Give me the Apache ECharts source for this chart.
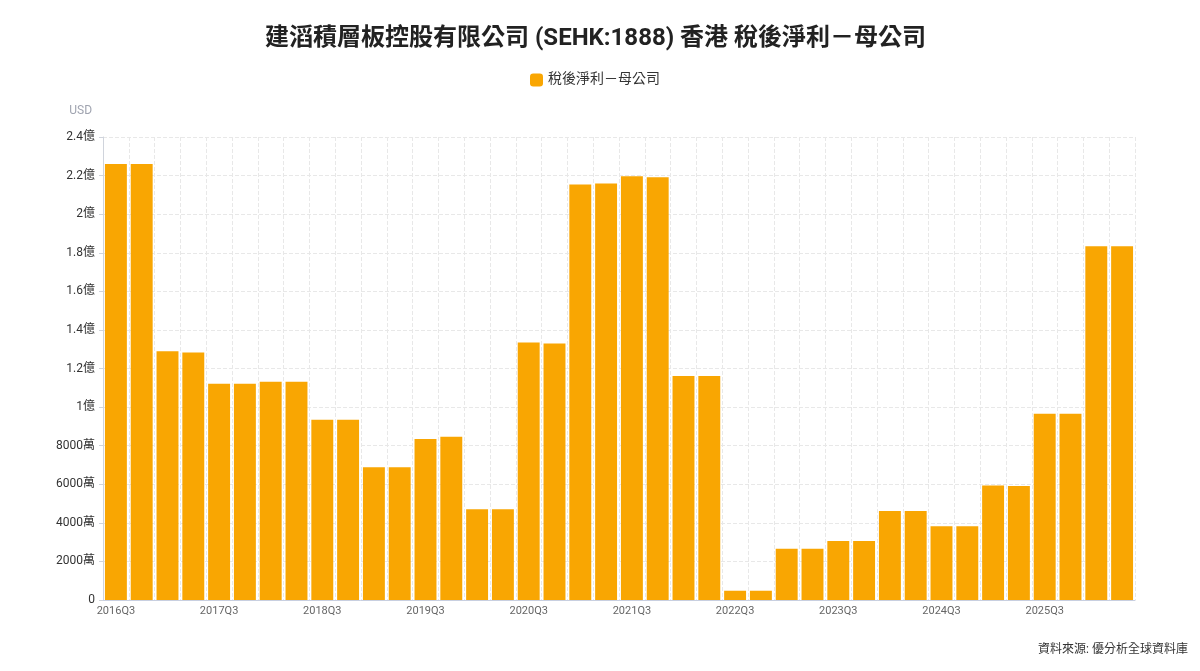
<!DOCTYPE html>
<html>
<head>
<meta charset="utf-8">
<script src="https://cdn.jsdelivr.net/npm/echarts@6/dist/echarts.min.js"></script>
<style>
  html, body { margin: 0; padding: 0; background: #fff; }
  #chart { width: 1200px; height: 671px; }
</style>
</head>
<body>
<div id="chart"></div>
<script>
// 季度 2016Q3 ~ 2026Q2
const quarters = [
  "2016Q3", "2016Q4", "2017Q1", "2017Q2", "2017Q3", "2017Q4", "2018Q1", "2018Q2",
  "2018Q3", "2018Q4", "2019Q1", "2019Q2", "2019Q3", "2019Q4", "2020Q1", "2020Q2",
  "2020Q3", "2020Q4", "2021Q1", "2021Q2", "2021Q3", "2021Q4", "2022Q1", "2022Q2",
  "2022Q3", "2022Q4", "2023Q1", "2023Q2", "2023Q3", "2023Q4", "2024Q1", "2024Q2",
  "2024Q3", "2024Q4", "2025Q1", "2025Q2", "2025Q3", "2025Q4", "2026Q1", "2026Q2"
];
// 稅後淨利－母公司 (USD)
const netProfit = [
  226000000, 226000000, 128900000, 128300000, 112100000, 112100000, 113100000, 113100000,
  93400000, 93400000, 68800000, 68800000, 83400000, 84600000, 47000000, 47000000,
  133500000, 133000000, 215400000, 215900000, 219700000, 219200000, 116100000, 116100000,
  4800000, 4800000, 26600000, 26600000, 30600000, 30600000, 46100000, 46100000,
  38200000, 38200000, 59400000, 59100000, 96500000, 96500000, 183400000, 183400000
];

const fontFamily = 'Roboto, "Noto Sans CJK TC", sans-serif';

function fmtValue(v) {
  if (v === 0) return "0";
  if (Math.abs(v) >= 1e8) return +(v / 1e8).toFixed(2) + "億";
  if (Math.abs(v) >= 1e4) return +(v / 1e4).toFixed(0) + "萬";
  return String(v);
}

const chart = echarts.init(document.getElementById("chart"));
const option = {
  textStyle: { fontFamily: fontFamily },
  title: [
    {
      text: "建滔積層板控股有限公司 (SEHK:1888) 香港 稅後淨利－母公司",
      left: 260,
      top: 22,
      textStyle: { fontSize: 24, fontWeight: "bold", color: "#222", fontFamily: fontFamily }
    },
    {
      text: "資料來源: 優分析全球資料庫",
      right: 7,
      bottom: 10,
      textStyle: { fontSize: 12, fontWeight: "normal", color: "#333", fontFamily: fontFamily }
    }
  ],
  legend: {
    top: 68,
    left: 525,
    itemWidth: 13,
    itemHeight: 13,
    itemGap: 8,
    icon: "roundRect",
    textStyle: { fontSize: 14, color: "#333" },
    data: ["稅後淨利－母公司"]
  },
  grid: { left: 103, right: 65, top: 137, bottom: 71 },
  xAxis: {
    type: "category",
    data: quarters,
    axisLine: { lineStyle: { color: "#c8cfe0" } },
    axisTick: { interval: 0, lineStyle: { color: "#c8cfe0" } },
    axisLabel: { interval: 3, color: "#666", fontSize: 11, margin: 6 },
    splitLine: { show: true, interval: 0, lineStyle: { type: "dashed", color: "#e8e8e8" } }
  },
  yAxis: {
    type: "value",
    name: "USD",
    nameLocation: "end",
    nameGap: 20,
    nameTextStyle: { color: "#a0a4b0", fontSize: 12, align: "right", padding: [0, 11, 0, 0] },
    min: 0,
    max: 240000000,
    interval: 20000000,
    axisLine: { show: true, lineStyle: { color: "#d0d4dc" } },
    axisTick: { show: true, length: 4, lineStyle: { color: "#d0d4dc" } },
    axisLabel: { color: "#333", fontSize: 12, formatter: fmtValue },
    splitLine: { show: true, lineStyle: { type: "dashed", color: "#e8e8e8" } }
  },
  series: [
    {
      name: "稅後淨利－母公司",
      type: "bar",
      data: netProfit,
      barCategoryGap: "15%",
      itemStyle: { color: "#f9a602" }
    }
  ]
};
chart.setOption(option);
</script>
</body>
</html>
